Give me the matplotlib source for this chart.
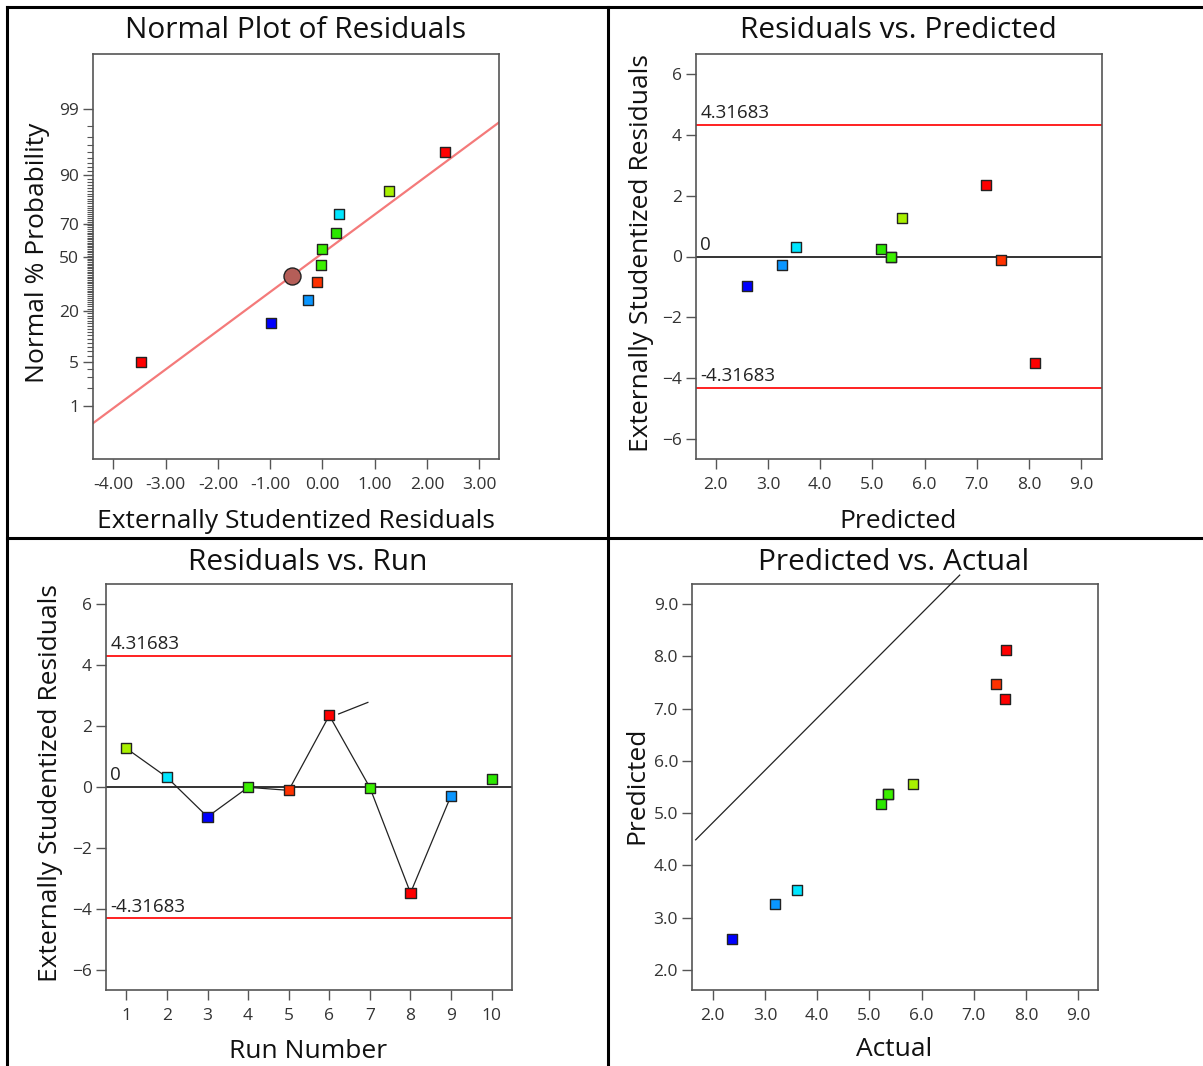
import numpy as np
import matplotlib
matplotlib.use('Agg')
import matplotlib.pyplot as plt
from matplotlib.lines import Line2D
from statistics import NormalDist

plt.rcParams['font.family'] = ['Open Sans', 'DejaVu Sans']

# Data
runs = np.arange(1, 11)
resid = np.array([1.27, 0.32, -0.98, -0.01, -0.11, 2.35, -0.02, -3.48, -0.28, 0.26])
predicted = np.array([5.56, 3.54, 2.60, 5.36, 7.46, 7.18, 5.36, 8.12, 3.27, 5.17])
actual = np.array([5.84, 3.62, 2.36, 5.35, 7.42, 7.60, 5.35, 7.61, 3.19, 5.22])
point_colors = ['#A8F000', '#00E6FF', '#0000FF', '#3CF000', '#FF3200',
                '#FF0000', '#3CF000', '#FF0000', '#0A96FF', '#2BE800']

normal_pct = [5, 15, 25, 35, 45, 55, 65, 75, 85, 95]
prob_ticks = [1, 5, 20, 50, 70, 90, 99]
highlight_resid, highlight_pct = -0.585, 38.6
fit_mean, fit_sd = -0.10, 1.65

limit = 4.31683
diag_offset = 2.82
diag_x = [1.67, 6.73]
pointer_x, pointer_y = [6.23, 6.95], [2.40, 2.78]

W, H = 1203, 1066
fig = plt.figure(figsize=(W / 100, H / 100), dpi=100)


def px_axes(l, t, r, b):
    return fig.add_axes([l / W, 1 - b / H, (r - l) / W, (b - t) / H])


def style(ax):
    for s in ax.spines.values():
        s.set_color('#555555')
        s.set_linewidth(1.2)
    ax.tick_params(direction='out', length=7, width=1, color='#555555',
                   labelcolor='#333333', labelsize=12.5)
    ax.tick_params(axis='y', pad=3)
    ax.tick_params(axis='x', pad=6)


def sq(ax, x, y, c):
    ax.scatter(x, y, marker='s', s=52, c=c, edgecolors='#222222',
               linewidths=1, zorder=5)


z = NormalDist().inv_cdf

# ---- Normal plot of residuals
ax1 = px_axes(93, 54, 499, 459)
style(ax1)
ax1.set_xlim(-4.39, 3.38)
ax1.set_ylim(-3.16, 3.18)
xx = np.array(ax1.get_xlim())
ax1.plot(xx, (xx - fit_mean) / fit_sd, color='#F47A7A', lw=1.6, zorder=2)
order = np.argsort(resid, kind='stable')
sq(ax1, resid[order], [z(p / 100) for p in normal_pct],
   [point_colors[i] for i in order])
ax1.scatter([highlight_resid], [z(highlight_pct / 100)], s=150, c='#B55E58',
            edgecolors='#222222', linewidths=1, zorder=6)
ax1.set_xticks(np.arange(-4, 4))
ax1.set_xticklabels([f'{v:.2f}' for v in np.arange(-4, 4)])
ax1.set_yticks([z(p / 100) for p in prob_ticks])
ax1.set_yticklabels([str(p) for p in prob_ticks])
ax1.set_yticks([z(p / 100) for p in range(1, 100) if p not in prob_ticks], minor=True)
ax1.tick_params(axis='y', which='minor', length=4, width=0.8, color='#555555')

# ---- Residuals vs predicted / run
def resid_panel(ax, x, y, xlim, ylim):
    style(ax)
    ax.set_xlim(*xlim)
    ax.set_ylim(*ylim)
    ax.axhline(limit, color='#FF2020', lw=1.4, zorder=2)
    ax.axhline(-limit, color='#FF2020', lw=1.4, zorder=2)
    ax.axhline(0, color='#111111', lw=1.2, zorder=2)
    for val, lab in [(limit, '4.31683'), (0, '0'), (-limit, '-4.31683')]:
        ax.annotate(lab, xy=(0, val), xycoords=('axes fraction', 'data'),
                    xytext=(3, 2), textcoords='offset points',
                    fontsize=13.5, color='#222222', va='bottom', ha='left')
    ax.set_yticks([-6, -4, -2, 0, 2, 4, 6])
    sq(ax, x, y, point_colors)


ax2 = px_axes(696, 54, 1102, 459)
resid_panel(ax2, predicted, resid, (1.62, 9.40), (-6.64, 6.64))
ax2.set_xticks(np.arange(2, 10))
ax2.set_xticklabels([f'{v:.1f}' for v in np.arange(2, 10)])

ax3 = px_axes(106, 584, 512, 990)
resid_panel(ax3, runs, resid, (0.5, 10.5), (-6.67, 6.67))
ax3.plot(runs[:9], resid[:9], color='#222222', lw=0.9, zorder=3)
ax3.plot(pointer_x, pointer_y, color='#222222', lw=0.9, zorder=3)
ax3.set_xticks(runs)

# ---- Predicted vs actual
ax4 = px_axes(692, 584, 1098, 990)
style(ax4)
ax4.set_xlim(1.6, 9.38)
ax4.set_ylim(1.62, 9.38)
dx = np.array(diag_x)
ax4.plot(dx, dx + diag_offset, color='#222222', lw=0.9, clip_on=False, zorder=3)
sq(ax4, actual, predicted, point_colors)
ax4.set_xticks(np.arange(2, 10))
ax4.set_xticklabels([f'{v:.1f}' for v in np.arange(2, 10)])
ax4.set_yticks(np.arange(2, 10))
ax4.set_yticklabels([f'{v:.1f}' for v in np.arange(2, 10)])

# ---- titles and axis labels
for x, y, t in [(296, 31, 'Normal Plot of Residuals'), (898, 31, 'Residuals vs. Predicted'),
                (308, 562, 'Residuals vs. Run'), (894, 562, 'Predicted vs. Actual')]:
    fig.text(x / W, 1 - y / H, t, ha='center', va='center', fontsize=21.5, color='#111111')
for x, y, t in [(296, 521, 'Externally Studentized Residuals'), (898, 521, 'Predicted'),
                (308, 1051, 'Run Number'), (894, 1050, 'Actual')]:
    fig.text(x / W, 1 - y / H, t, ha='center', va='center', fontsize=19, color='#111111')
for x, y, t in [(38, 253, 'Normal % Probability'), (641, 253, 'Externally Studentized Residuals'),
                (51, 783, 'Externally Studentized Residuals'), (637, 785, 'Predicted')]:
    fig.text(x / W, 1 - y / H, t, ha='center', va='center', rotation=90,
             fontsize=19, color='#111111')

# panel frame lines
for xs, ys in [([7, 7], [7, H]), ([7, W], [7, 7]), ([608, 608], [7, H]), ([7, W], [538, 538])]:
    fig.add_artist(Line2D([v / W for v in xs], [1 - v / H for v in ys],
                          transform=fig.transFigure, color='black', lw=2.2))

fig.savefig('out.png', dpi=100)
